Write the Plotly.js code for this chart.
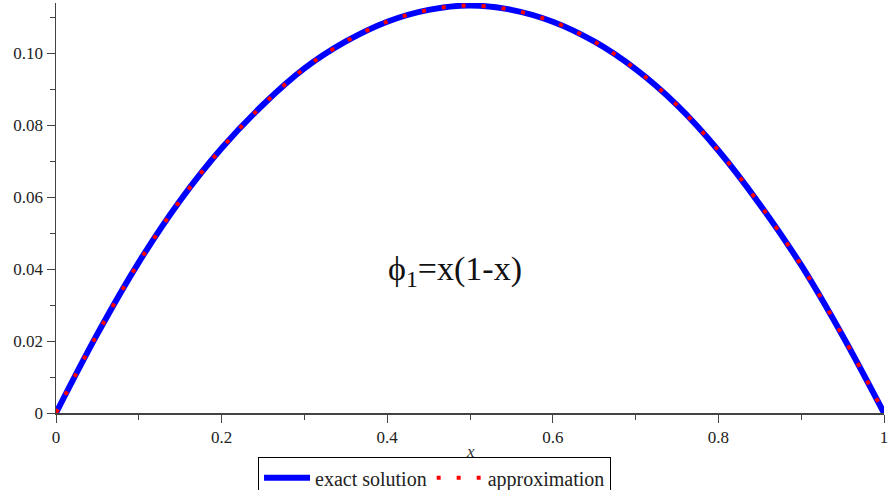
<!DOCTYPE html>
<html>
<head>
<meta charset="utf-8">
<script src="https://cdn.plot.ly/plotly-3.0.1.min.js"></script>
<style>html,body{margin:0;padding:0;background:#fff;}#chart{width:889px;height:490px;}</style>
</head>
<body>
<div id="chart"></div>
<script>
const xValues = [0, 0.05, 0.1, 0.15, 0.2, 0.25, 0.3, 0.35, 0.4, 0.45, 0.5, 0.55, 0.6, 0.65, 0.7, 0.75, 0.8, 0.85, 0.9, 0.95, 1];
const exactSolution = [0, 0.0220, 0.0419, 0.0591, 0.0736, 0.0857, 0.0958, 0.1033, 0.1088, 0.1121, 0.1133, 0.1121, 0.1088, 0.1033, 0.0956, 0.0856, 0.0730, 0.0580, 0.0411, 0.0215, 0];
const approximation = [0, 0.0220, 0.0419, 0.0591, 0.0736, 0.0857, 0.0958, 0.1033, 0.1088, 0.1121, 0.1133, 0.1121, 0.1088, 0.1033, 0.0956, 0.0856, 0.0730, 0.0580, 0.0411, 0.0215, 0];
const xTickVals = [0, 0.2, 0.4, 0.6, 0.8, 1];
const xTickText = ["0", "0.2", "0.4", "0.6", "0.8", "1"];
const yTickVals = [0, 0.02, 0.04, 0.06, 0.08, 0.10];
const yTickText = ["0", "0.02", "0.04", "0.06", "0.08", "0.10"];
const seriesNames = ["exact solution", "approximation"];
const xAxisLabel = "x";
const curveLabel = "ϕ<sub>1</sub>=x(1-x)";

const serif = "Liberation Serif, Times New Roman, serif";
const traces = [
  {x: xValues, y: exactSolution, name: seriesNames[0], type: "scatter", mode: "lines",
   line: {color: "#0000ff", width: 6, shape: "spline"}},
  {x: xValues, y: approximation, name: seriesNames[1], type: "scatter", mode: "lines",
   line: {color: "#ff0000", width: 4, dash: "4px,16px", shape: "spline"}}
];
const layout = {
  width: 889, height: 490,
  margin: {l: 56, r: 5, t: 3, b: 77, autoexpand: false},
  paper_bgcolor: "#fff", plot_bgcolor: "#fff",
  font: {family: serif, size: 17, color: "#222"},
  showlegend: true,
  legend: {orientation: "h", x: 0.244, xanchor: "left", y: -0.108, yanchor: "top",
    bordercolor: "#000", borderwidth: 1, bgcolor: "#fff",
    font: {family: serif, size: 20, color: "#222"}, itemwidth: 46, tracegroupgap: 0},
  xaxis: {range: [0, 1], tickvals: xTickVals, ticktext: xTickText, ticks: "outside", ticklen: 8,
    tickcolor: "#444", showline: true, linecolor: "#444", linewidth: 1.5, showgrid: false, zeroline: false,
    minor: {dtick: 0.1, tick0: 0, ticks: "outside", ticklen: 5, tickcolor: "#444", showgrid: false}},
  yaxis: {range: [0, 0.1140], tickvals: yTickVals, ticktext: yTickText, ticks: "outside", ticklen: 8,
    tickcolor: "#444", showline: true, linecolor: "#444", linewidth: 1.5, showgrid: false, zeroline: false,
    minor: {dtick: 0.01, tick0: 0, ticks: "outside", ticklen: 5, tickcolor: "#444", showgrid: false}},
  annotations: [
    {x: 0.482, y: 0.0394, xref: "x", yref: "y", text: curveLabel, showarrow: false,
     xanchor: "center", yanchor: "middle", font: {family: serif, size: 34, color: "#111"}},
    {x: 0.5, y: -0.095, xref: "paper", yref: "paper", text: xAxisLabel, showarrow: false,
     xanchor: "center", yanchor: "middle", font: {family: serif, size: 17, color: "#333", style: "italic"}}
  ]
};
Plotly.newPlot("chart", traces, layout, {staticPlot: true, displayModeBar: false});
</script>
</body>
</html>
